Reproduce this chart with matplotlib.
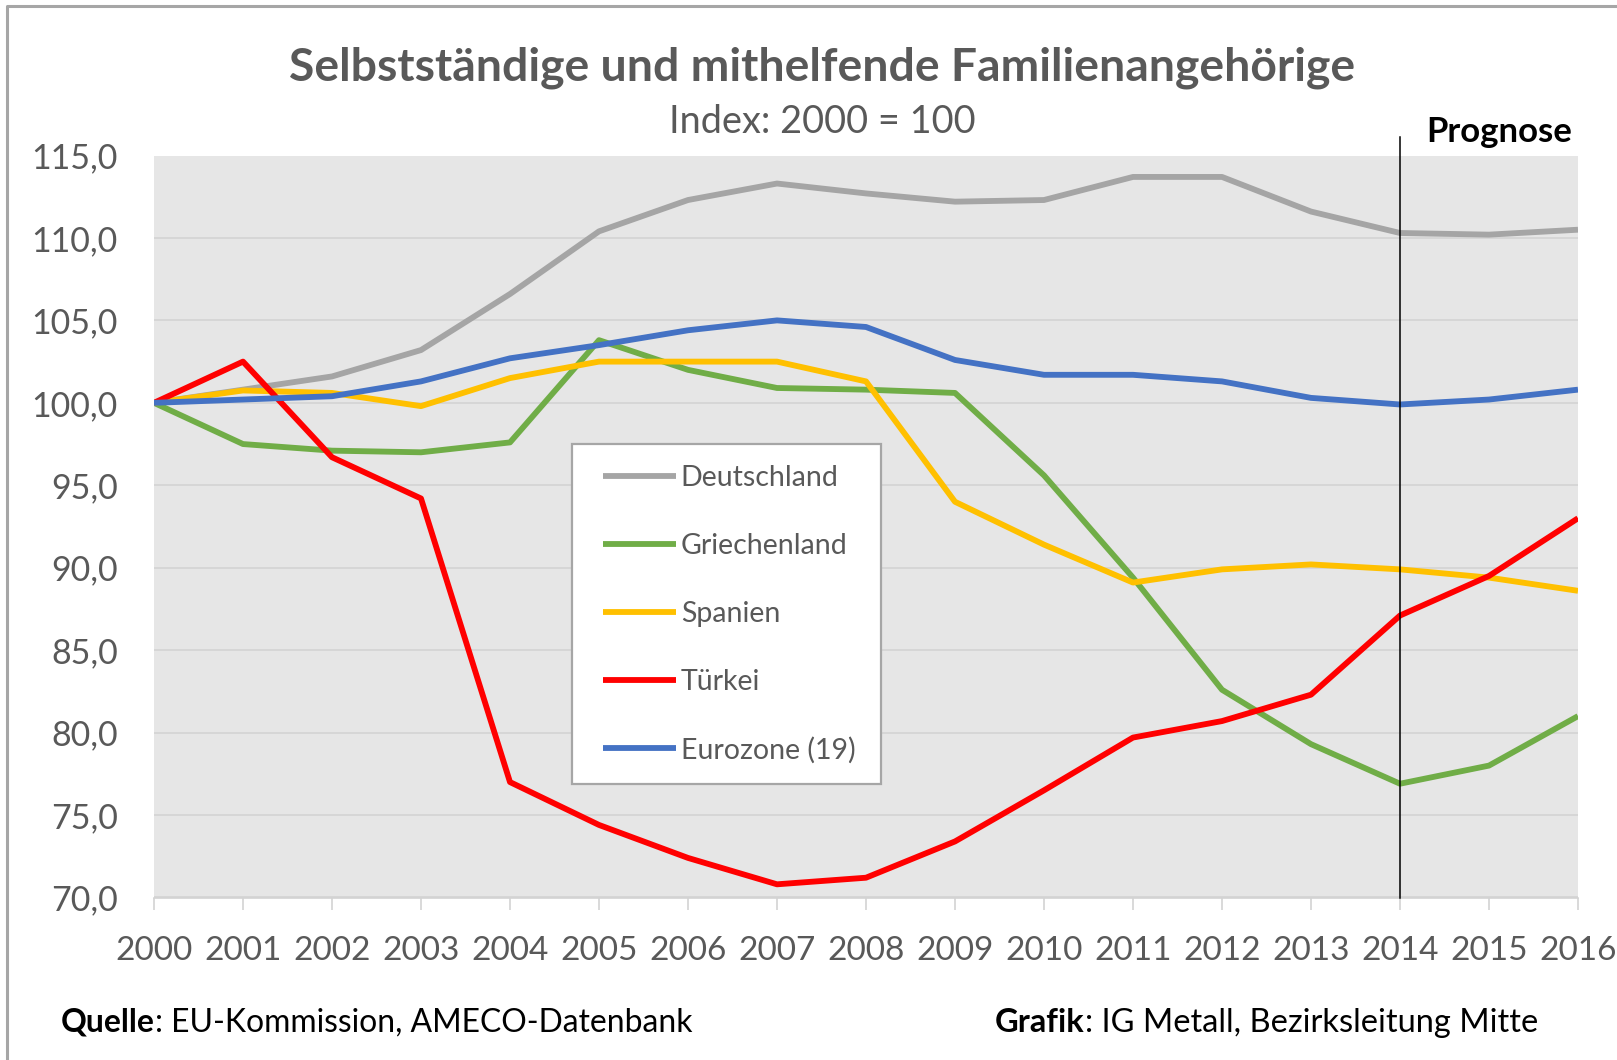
import matplotlib
matplotlib.use("Agg")
import matplotlib.pyplot as plt
from matplotlib.patches import Rectangle
from matplotlib.lines import Line2D
from matplotlib.ticker import FuncFormatter, MultipleLocator

# ---------------- data ----------------
years = list(range(2000, 2017))
deutschland = [100.0, 100.8, 101.6, 103.2, 106.6, 110.4, 112.3, 113.3, 112.7,
               112.2, 112.3, 113.7, 113.7, 111.6, 110.3, 110.2, 110.5]
griechenland = [100.0, 97.5, 97.1, 97.0, 97.6, 103.8, 102.0, 100.9, 100.8,
                100.6, 95.6, 89.4, 82.6, 79.3, 76.9, 78.0, 81.0]
spanien = [100.0, 100.75, 100.6, 99.8, 101.5, 102.5, 102.5, 102.5, 101.3,
           94.0, 91.4, 89.1, 89.9, 90.2, 89.9, 89.4, 88.6]
tuerkei = [100.0, 102.5, 96.7, 94.2, 77.0, 74.4, 72.4, 70.8, 71.2,
           73.4, 76.5, 79.7, 80.7, 82.3, 87.1, 89.5, 93.0]
eurozone = [100.0, 100.2, 100.4, 101.3, 102.7, 103.5, 104.4, 105.0, 104.6,
            102.6, 101.7, 101.7, 101.3, 100.3, 99.9, 100.2, 100.8]

series_names = ["Deutschland", "Griechenland", "Spanien", "Türkei", "Eurozone (19)"]
series_values = [deutschland, griechenland, spanien, tuerkei, eurozone]
series_colors = ["#a5a5a5", "#70ad47", "#ffc000", "#ff0000", "#4472c4"]

title_text = "Selbstständige und mithelfende Familienangehörige"
subtitle_text = "Index: 2000 = 100"
prognose_text = "Prognose"
prognose_year = 2014
source_bold, source_rest = "Quelle", ": EU-Kommission, AMECO-Datenbank"
credit_bold, credit_rest = "Grafik", ": IG Metall, Bezirksleitung Mitte"

# ---------------- layout ----------------
W, H, DPI = 1617, 1060, 100
FONT = "Lato"
GRAY_TXT = "#595959"
plt.rcParams["font.family"] = [FONT, "DejaVu Sans"]

fig = plt.figure(figsize=(W / DPI, H / DPI), dpi=DPI)
fig.patch.set_facecolor("white")
renderer = fig.canvas.get_renderer()


def fx(x):
    return x / W


def fy(y):
    return 1 - y / H


AX_L, AX_R, AX_T, AX_B = 154, 1578, 155.5, 897.5
ax = fig.add_axes([fx(AX_L), fy(AX_B), (AX_R - AX_L) / W, (AX_B - AX_T) / H])
ax.set_facecolor("#e6e6e6")
ax.set_xlim(years[0], years[-1])
ax.set_ylim(70, 115)
ax.yaxis.set_major_locator(MultipleLocator(5))
ax.yaxis.set_major_formatter(FuncFormatter(lambda v, p: f"{v:.1f}".replace(".", ",")))
ax.set_xticks(years)
ax.set_xticklabels([str(y) for y in years])
ax.grid(axis="y", color="#d3d3d3", linewidth=1.2)
ax.set_axisbelow(True)
for s in ["left", "right", "top"]:
    ax.spines[s].set_visible(False)
ax.spines["bottom"].set_color("#d3d3d3")
ax.spines["bottom"].set_linewidth(1.2)
ax.tick_params(axis="y", length=0, pad=26, labelsize=24.5, labelcolor=GRAY_TXT)
ax.tick_params(axis="x", length=8.6, width=1.2, color="#d3d3d3", pad=19,
               labelsize=24, labelcolor=GRAY_TXT)

for name, vals, col in zip(series_names, series_values, series_colors):
    ax.plot(years, vals, color=col, lw=4.2, label=name,
            solid_joinstyle="round", solid_capstyle="butt", zorder=3)

# Prognose marker line
ax.axvline(prognose_year, ymin=0, ymax=(AX_B - 136.7) / (AX_B - AX_T),
           color="black", lw=1.1, clip_on=False, zorder=4)


def fit(t, target):
    w = t.get_window_extent(renderer).width
    t.set_fontsize(t.get_fontsize() * target / w)


# Title / subtitle
t = fig.text(fx(822.5), fy(80.5), title_text, ha="center", va="baseline",
             fontsize=30, fontweight="bold", color=GRAY_TXT)
fit(t, 1063)
t = fig.text(fx(822), fy(133), subtitle_text, ha="center", va="baseline",
             fontsize=24, color=GRAY_TXT)
fit(t, 306)
t = fig.text(fx(1426), fy(141.5), prognose_text, ha="left", va="baseline",
             fontsize=22, fontweight="bold", color="black")
fit(t, 146)


def footer(x0, x1, ybase, bold, rest):
    a = fig.text(fx(x0), fy(ybase), bold, ha="left", va="baseline",
                 fontsize=20, fontweight="bold", color="black")
    b = fig.text(fx(x0), fy(ybase), rest, ha="left", va="baseline",
                 fontsize=20, color="black")
    wa = a.get_window_extent(renderer).width
    wb = b.get_window_extent(renderer).width
    k = (x1 - x0) / (wa + wb)
    a.set_fontsize(20 * k)
    b.set_fontsize(20 * k)
    wa = a.get_window_extent(renderer).width
    b.set_x(fx(x0 + wa))


footer(61, 693, 1032, source_bold, source_rest)
footer(995, 1540, 1032, credit_bold, credit_rest)

# Legend frame
ax.add_patch(Rectangle((fx(572), fy(784.3)), fx(880.7) - fx(572), fy(444) - fy(784.3),
                       transform=fig.transFigure, facecolor="white",
                       edgecolor="#a6a6a6", lw=1.6, zorder=5, clip_on=False))

LEG_FS = 20.5
fs_px = LEG_FS * DPI / 72
row_target = 67.9
first_center = 478.3
handle_left = 602.7


def make_leg(ls, ax_x, ax_y):
    lg = ax.legend(loc="upper left", bbox_to_anchor=(fx(ax_x), fy(ax_y)),
                   bbox_transform=fig.transFigure, frameon=False,
                   fontsize=LEG_FS, labelcolor=GRAY_TXT, borderpad=0,
                   borderaxespad=0, handlelength=73 / fs_px,
                   handletextpad=5 / fs_px, labelspacing=ls)
    lg.set_zorder(6)
    return lg


ls = 1.2
lx, ly = handle_left, 455
for _ in range(3):
    leg = make_leg(ls, lx, ly)
    fig.canvas.draw()
    cs = [(tt.get_window_extent(renderer).y0 + tt.get_window_extent(renderer).y1) / 2
          for tt in leg.get_texts()]
    spacing = (cs[0] - cs[-1]) / (len(cs) - 1)
    ls += (row_target - spacing) / fs_px
    c0 = H - cs[0]
    ly += first_center - c0
    hl = leg.legend_handles[0]
    xs = hl.get_transform().transform(hl.get_xydata())[:, 0]
    lx += handle_left - xs.min()
    leg.remove()
leg = make_leg(ls, lx, ly)
for hl in leg.legend_handles:
    hl.set_linewidth(4.2)

# outer border (left and top visible)
fig.add_artist(Line2D([fx(7), fx(7), fx(W + 5)], [fy(H + 5), fy(6), fy(6)],
                      transform=fig.transFigure, color="#a6a6a6", lw=2.2))

fig.savefig("out.png", dpi=DPI)
